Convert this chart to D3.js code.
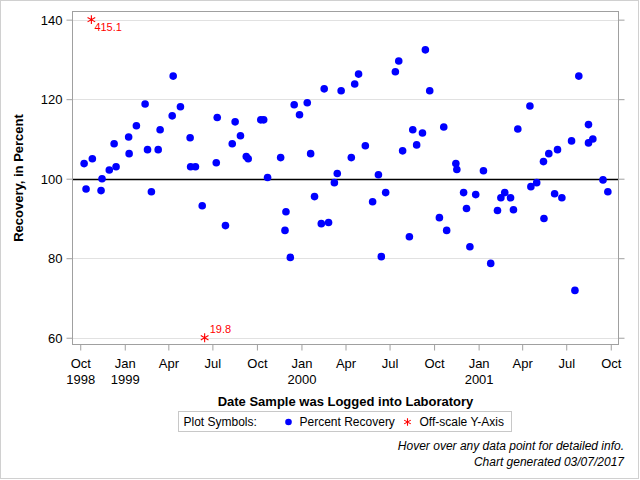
<!DOCTYPE html>
<html>
<head>
<meta charset="utf-8">
<script src="https://cdn.jsdelivr.net/npm/d3@7"></script>
<style>
  html, body { margin: 0; padding: 0; background: #fff; }
  svg { display: block; font-family: Arial, "Liberation Sans", sans-serif; }
</style>
</head>
<body>
<svg id="chart" width="640" height="480"></svg>
<script>
// ---------------- data ----------------
const sampleDates = [
  "1998-10-09","1998-10-13","1998-10-26","1998-11-15","1998-11-13","1998-11-30","1998-12-14","1998-12-10",
  "1999-01-09","1999-01-10","1999-01-25","1999-02-12","1999-02-17","1999-02-25","1999-03-11","1999-03-15",
  "1999-04-11","1999-04-09","1999-04-26","1999-05-16","1999-05-17","1999-05-27","1999-06-10","1999-07-11",
  "1999-07-09","1999-07-28","1999-08-17","1999-08-11","1999-08-28","1999-09-09","1999-09-13","1999-10-09",
  "1999-10-15","1999-10-23","1999-11-19","1999-11-30","1999-11-28","1999-12-09","1999-12-17","1999-12-28",
  "2000-01-13","2000-01-20","2000-01-28","2000-02-11","2000-02-26","2000-02-17","2000-03-23","2000-03-15",
  "2000-03-09","2000-04-20","2000-04-28","2000-04-13","2000-05-12","2000-05-27","2000-06-08","2000-06-14",
  "2000-06-23","2000-07-13","2000-07-20","2000-07-28","2000-08-11","2000-08-18","2000-08-26","2000-09-07",
  "2000-09-13","2000-09-22","2000-10-12","2000-10-21","2000-10-27","2000-11-15","2000-11-17","2000-12-01",
  "2000-12-07","2000-12-14","2000-12-26","2001-01-11","2001-01-26","2001-02-09","2001-02-16","2001-02-24",
  "2001-03-08","2001-03-14","2001-03-23","2001-04-17","2001-04-19","2001-05-01","2001-05-15","2001-05-16",
  "2001-05-26","2001-06-07","2001-06-13","2001-06-22","2001-07-12","2001-07-19","2001-07-27","2001-08-16",
  "2001-08-16","2001-08-25","2001-09-15","2001-09-25"
];
const recoveryValues = [
  103.8, 97.4, 105.0, 100.0, 97.0, 102.2, 103.0, 108.8,
  110.5, 106.3, 113.3, 118.8, 107.3, 96.7, 107.3, 112.3,
  125.8, 115.8, 118.1, 110.3, 103.0, 103.0, 93.2, 115.4,
  104.0, 88.2, 114.3, 108.8, 110.8, 105.6, 105.0, 114.8,
  114.8, 100.3, 105.3, 91.7, 87.0, 80.2, 118.6, 116.1,
  119.1, 106.3, 95.5, 88.7, 89.0, 122.6, 122.1, 101.3,
  99.0, 123.8, 126.3, 105.3, 108.3, 94.2, 101.0, 80.4,
  96.5, 126.9, 129.6, 107.0, 85.4, 112.3, 108.5, 111.5,
  132.4, 122.1, 90.2, 113.0, 87.0, 103.8, 102.3, 96.5,
  92.5, 82.9, 96.0, 102.0, 78.7, 92.0, 95.2, 96.5,
  95.2, 92.2, 112.5, 118.3, 98.0, 99.0, 104.3, 90.0,
  106.3, 96.2, 107.3, 95.2, 109.5, 71.9, 125.8, 113.6,
  109.0, 110.0, 99.7, 96.7
];
const offscaleDates = ["1998-10-24", "1999-06-15"];
const offscaleValues = [415.1, 19.8];

const yTickValues = [60, 80, 100, 120, 140];
const referenceValue = 100;
const xDomain = ["1998-09-15", "2001-10-17"];
const yDomain = [58.3, 142.05];

const yTitle = "Recovery, in Percent";
const xTitle = "Date Sample was Logged into Laboratory";
const legendTitle = "Plot Symbols:";
const legendLabels = ["Percent Recovery", "Off-scale Y-Axis"];
const footnotes = ["Hover over any data point for detailed info.", "Chart generated 03/07/2017"];
const monthNames = ["Jan","Feb","Mar","Apr","May","Jun","Jul","Aug","Sep","Oct","Nov","Dec"];

// ---------------- drawing ----------------
const parse = d3.utcParse("%Y-%m-%d");
const svg = d3.select("#chart");

const pLeft = 72.5, pRight = 618.5, pTop = 11.5, pBottom = 344.5;

const x = d3.scaleUtc().domain(xDomain.map(parse)).range([pLeft, pRight]);
const y = d3.scaleLinear().domain(yDomain).range([pBottom, pTop]);

// outer border
svg.append("rect").attr("x", 0.5).attr("y", 0.5).attr("width", 638).attr("height", 478)
  .attr("fill", "#fff").attr("stroke", "#d0d0d0");

// grid lines
svg.append("g").selectAll("line").data(yTickValues.filter(v => v !== referenceValue)).join("line")
  .attr("x1", pLeft).attr("x2", pRight)
  .attr("y1", d => Math.round(y(d)) + 0.5).attr("y2", d => Math.round(y(d)) + 0.5)
  .attr("stroke", "#e1e1e1").attr("stroke-width", 1);

// reference line
svg.append("line").attr("x1", pLeft).attr("x2", pRight)
  .attr("y1", Math.round(y(referenceValue)) + 0.5).attr("y2", Math.round(y(referenceValue)) + 0.5)
  .attr("stroke", "#000").attr("stroke-width", 1.3);

// axes
const tickColor = "#a0a0a0";
const yAxisL = svg.append("g").attr("transform", `translate(${pLeft},0)`)
  .call(d3.axisLeft(y).tickValues(yTickValues).tickSize(6).tickPadding(4).tickFormat(d3.format("d")));
const yAxisR = svg.append("g").attr("transform", `translate(${pRight},0)`)
  .call(d3.axisRight(y).tickValues(yTickValues).tickSize(6).tickFormat(""));

const xTicks = d3.utcMonth.every(3).range(parse("1998-10-01"), parse("2001-10-02"));
const xAxis = svg.append("g").attr("transform", `translate(0,${pBottom})`)
  .call(d3.axisBottom(x).tickValues(xTicks).tickSize(6).tickPadding(8)
    .tickFormat(d => monthNames[d.getUTCMonth()]));

[yAxisL, yAxisR, xAxis].forEach(g => {
  g.select(".domain").remove();
  g.selectAll(".tick line").attr("stroke", tickColor);
  g.selectAll(".tick text").attr("fill", "#000").attr("font-size", 13)
    .attr("font-family", "Arial, 'Liberation Sans', sans-serif");
});
yAxisL.selectAll(".tick text").attr("dy", "0.34em");

// year labels
xAxis.selectAll(".tick").filter((d, i) => i === 0 || d.getUTCMonth() === 0)
  .append("text").attr("y", 39.5).attr("fill", "#000").attr("font-size", 13)
  .attr("text-anchor", "middle")
  .text(d => d.getUTCFullYear());

// frame
svg.append("rect").attr("x", pLeft).attr("y", pTop).attr("width", pRight - pLeft).attr("height", pBottom - pTop)
  .attr("fill", "none").attr("stroke", tickColor);

// points
const points = sampleDates.map((d, i) => ({ date: parse(d), value: recoveryValues[i] }));
svg.append("g").selectAll("circle").data(points).join("circle")
  .attr("cx", d => x(d.date)).attr("cy", d => y(d.value)).attr("r", 3.8)
  .attr("fill", "#0000ff");

// off-scale points
const yMin = d3.min(yTickValues), yMax = d3.max(yTickValues);
const offscale = offscaleDates.map((d, i) => ({ date: parse(d), value: offscaleValues[i] }));
const star = d3.symbol().type(d3.symbolAsterisk).size(55);
const og = svg.append("g").selectAll("g").data(offscale).join("g")
  .attr("transform", d => `translate(${x(d.date)},${y(d.value > yMax ? yMax : yMin)})`);
og.append("path").attr("d", star).attr("fill", "none").attr("stroke", "#ff0000").attr("stroke-width", 1.1);
og.append("text")
  .attr("x", d => d.value > yMax ? 3 : 5)
  .attr("y", d => d.value > yMax ? 11 : -4.5)
  .attr("fill", "#ff0000").attr("font-size", 11)
  .text(d => d3.format(".1f")(d.value));

// axis titles
svg.append("text").attr("transform", `translate(23,${(pTop + pBottom) / 2}) rotate(-90)`)
  .attr("text-anchor", "middle").attr("font-weight", "bold").attr("font-size", 13).text(yTitle);
svg.append("text").attr("x", (pLeft + pRight) / 2).attr("y", 405.5)
  .attr("text-anchor", "middle").attr("font-weight", "bold").attr("font-size", 13).text(xTitle);

// legend
const lg = svg.append("g");
lg.append("rect").attr("x", 178.5).attr("y", 411.5).attr("width", 333).attr("height", 20)
  .attr("fill", "#fff").attr("stroke", "#c8c8c8");
lg.append("text").attr("x", 183.5).attr("y", 426).attr("font-size", 12).text(legendTitle);
lg.append("circle").attr("cx", 288.5).attr("cy", 422).attr("r", 3.3).attr("fill", "#0000ff");
lg.append("text").attr("x", 299.5).attr("y", 426).attr("font-size", 12).text(legendLabels[0]);
lg.append("path").attr("transform", "translate(407.5,422)").attr("d", d3.symbol().type(d3.symbolAsterisk).size(40))
  .attr("fill", "none").attr("stroke", "#ff0000").attr("stroke-width", 1.1);
lg.append("text").attr("x", 419.5).attr("y", 426).attr("font-size", 12).text(legendLabels[1]);

// footnotes
svg.append("g").selectAll("text").data(footnotes).join("text")
  .attr("x", 624).attr("y", (d, i) => 450 + i * 16)
  .attr("text-anchor", "end").attr("font-style", "italic").attr("font-size", 12)
  .text(d => d);
</script>
</body>
</html>
